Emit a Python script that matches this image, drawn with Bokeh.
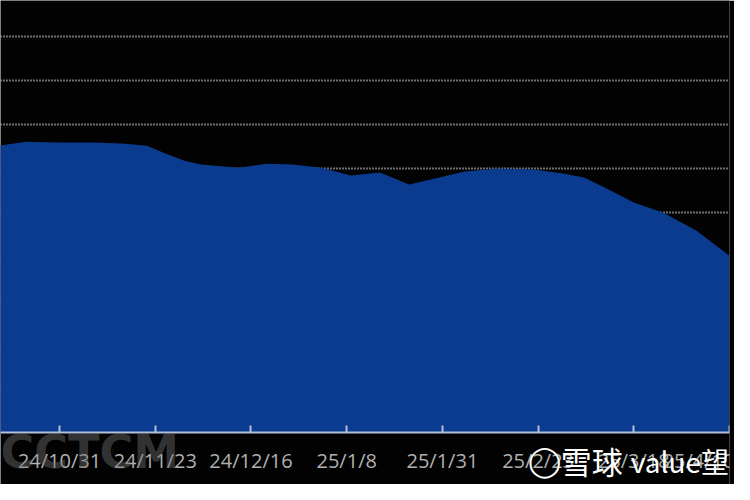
import pandas as pd
from bokeh.plotting import figure
from bokeh.models import Range1d, FixedTicker, Label, ColumnDataSource
from bokeh.embed import file_html
from bokeh.resources import INLINE

# ---- data ----
dates = ["2024-10-15", "2024-10-23", "2024-10-31", "2024-11-08", "2024-11-15",
         "2024-11-21", "2024-11-25", "2024-11-30", "2024-12-04", "2024-12-13",
         "2024-12-20", "2024-12-26", "2025-01-02", "2025-01-09", "2025-01-16",
         "2025-01-23", "2025-01-29", "2025-02-05", "2025-02-13", "2025-02-22",
         "2025-03-01", "2025-03-06", "2025-03-11", "2025-03-18", "2025-03-25",
         "2025-04-02", "2025-04-10"]
values = [6.50, 6.61, 6.59, 6.59, 6.57, 6.52, 6.36, 6.18, 6.09, 6.02,
          6.11, 6.09, 6.02, 5.84, 5.91, 5.64, 5.77, 5.93, 6.00, 5.98,
          5.89, 5.80, 5.57, 5.23, 5.00, 4.59, 4.02]
tick_dates = ["2024-10-31", "2024-11-23", "2024-12-16", "2025-01-08",
              "2025-01-31", "2025-02-23", "2025-03-18", "2025-04-10"]
tick_labels = ["24/10/31", "24/11/23", "24/12/16", "25/1/8",
               "25/1/31", "25/2/23", "25/3/18", "25/4/10"]
grid_levels = [1, 2, 3, 4, 5, 6, 7, 8, 9]

origin = pd.Timestamp("2024-10-31")
xs = [int((pd.Timestamp(d) - origin).days) for d in dates]
tick_x = [int((pd.Timestamp(d) - origin).days) for d in tick_dates]

src = ColumnDataSource(dict(x=xs, y=values, y0=[0] * len(xs)))

p = figure(width=734, height=484, output_backend="svg", toolbar_location=None,
           x_range=Range1d(-14.2, 161), y_range=Range1d(-1.18, 9.82),
           y_axis_location=None,
           min_border_left=0, min_border_right=5, min_border_top=0,
           min_border_bottom=0,
           background_fill_color="#020202", border_fill_color="#020202",
           outline_line_color=None)

p.varea(x="x", y1="y0", y2="y", source=src, fill_color="#0a3b8e")

# grid
p.xgrid.visible = False
p.ygrid.ticker = FixedTicker(ticks=grid_levels)
p.ygrid.grid_line_color = "#dcdcdc"
p.ygrid.grid_line_width = 2
p.ygrid.grid_line_dash = "1 2"

# x axis, pinned at y = 0 inside the frame
ax = p.xaxis[0]
ax.fixed_location = 0
ax.ticker = FixedTicker(ticks=tick_x)
ax.major_label_overrides = {t: l for t, l in zip(tick_x, tick_labels)}
ax.axis_line_color = "#b4c0da"
ax.axis_line_width = 2
ax.major_tick_line_color = "#b4c0da"
ax.major_tick_line_width = 2
ax.major_tick_in = 7
ax.major_tick_out = 0
ax.minor_tick_line_color = None
ax.major_label_text_color = "#b0b0b0"
ax.major_label_text_font = "Open Sans"
ax.major_label_text_font_size = "20px"
ax.major_label_standoff = 14

# watermarks
yw = (440 - 468) / 44.0
p.add_layout(Label(x=-14.2, y=-0.45, text="CCTCM", text_font="DejaVu Sans",
                   text_font_style="bold", text_font_size="46px",
                   text_color="#707070", text_alpha=0.45,
                   text_baseline="alphabetic"))
p.add_layout(Label(x=(551 - 67) / 4.152, y=yw, text="◯",
                   text_font="DejaVu Sans", text_font_size="30px",
                   text_color="#ffffff", text_align="center",
                   text_baseline="middle"))
p.add_layout(Label(x=(567 - 67) / 4.152, y=yw, text="雪球",
                   text_font="Noto Sans CJK SC", text_font_size="31px",
                   text_color="#ffffff", text_baseline="middle"))
p.add_layout(Label(x=(637 - 67) / 4.152, y=yw, text="value望",
                   text_font="Noto Sans CJK SC", text_font_size="28px",
                   text_color="#ffffff", text_baseline="middle"))

open("out.html", "w").write(file_html(p, INLINE))
